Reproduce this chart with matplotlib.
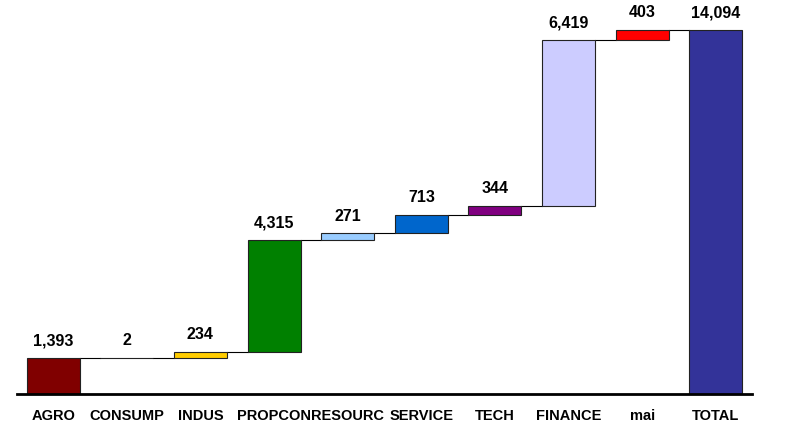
import matplotlib.pyplot as plt
import numpy as np

plt.rcParams['font.family'] = ['Liberation Sans', 'DejaVu Sans']

categories = ['AGRO', 'CONSUMP', 'INDUS', 'PROPCON', 'RESOURC', 'SERVICE',
              'TECH', 'FINANCE', 'mai', 'TOTAL']
values = [1393, 2, 234, 4315, 271, 713, 344, 6419, 403, 14094]
colors = ['#800000', '#FF6600', '#FFCC00', '#008000', '#99CCFF', '#0066CC',
          '#800080', '#CCCCFF', '#FF0000', '#333399']

W, H = 791, 425
fig = plt.figure(figsize=(W / 100, H / 100), dpi=100)
ax = fig.add_axes([17 / W, 31 / H, 735 / W, 394 / H])

x = np.arange(len(categories))
steps = np.array(values[:-1])
tops = np.cumsum(steps)
bottoms = np.concatenate([[0], tops[:-1], [0]])
heights = np.concatenate([steps, [values[-1]]])
width = 0.72

ax.bar(x, heights, bottom=bottoms, width=width, color=colors,
       edgecolor='#222222', linewidth=0.8, zorder=2)

# connectors between bars
levels = np.concatenate([tops, [values[-1]]])
for i in range(len(x) - 1):
    ax.plot([x[i] + width / 2, x[i + 1] - width / 2], [levels[i], levels[i]],
            color='black', linewidth=0.8, zorder=1)

for xi, top, v in zip(x, bottoms + heights, values):
    ax.annotate(f'{v:,}', (xi, top), xytext=(0, 7), textcoords='offset points',
                ha='center', va='bottom', fontsize=11.5, fontweight='bold')

ax.set_xlim(-0.49, len(x) - 0.51)
ax.set_ylim(0, values[-1] * 394 / 364)
ax.set_xticks(x)
ax.set_xticklabels(categories, fontsize=10.5, fontweight='bold')
ax.tick_params(axis='x', length=0, pad=11)
ax.set_yticks([])
for s in ['top', 'right', 'left']:
    ax.spines[s].set_visible(False)
ax.spines['bottom'].set_linewidth(2)

fig.savefig('out.png', dpi=100)
